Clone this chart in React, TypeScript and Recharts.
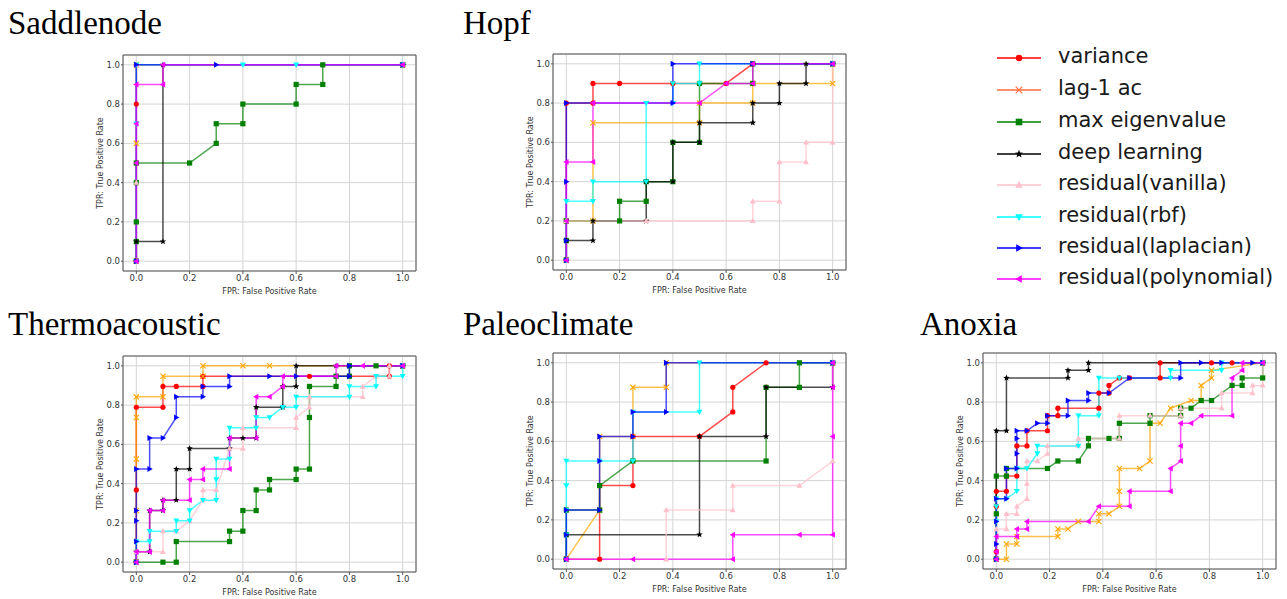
import { LineChart, Line, XAxis, YAxis, CartesianGrid, ReferenceArea } from "recharts"

// ---- series styling (matplotlib-like) ----
const seriesNames = [
  "variance",
  "lag-1 ac",
  "max eigenvalue",
  "deep learning",
  "residual(vanilla)",
  "residual(rbf)",
  "residual(laplacian)",
  "residual(polynomial)",
]
const seriesColors = ["#ff0000", "#ffa500", "#008000", "#000000", "#ffc0cb", "#00ffff", "#0000ff", "#ff00ff"]
const legendColors = ["#ff0000", "#ff6a3d", "#008000", "#000000", "#ffc0cb", "#00ffff", "#0000ff", "#ff00ff"]
const seriesMarkers = ["o", "x", "s", "*", "^", "v", ">", "<"]

const ticks = [0, 0.2, 0.4, 0.6, 0.8, 1.0]

// ---- Saddlenode (FPR, TPR) ----
const sadVariance = [[0, 0], [0, 0.8], [0, 1], [1, 1]]
const sadLag1 = [[0, 0], [0, 0.6], [0, 1], [1, 1]]
const sadMaxEig = [[0, 0], [0, 0.1], [0, 0.2], [0, 0.4], [0, 0.5], [0.2, 0.5], [0.3, 0.6], [0.3, 0.7], [0.4, 0.7], [0.4, 0.8], [0.6, 0.8], [0.6, 0.9], [0.7, 0.9], [0.7, 1], [1, 1]]
const sadDeep = [[0, 0], [0, 0.1], [0.1, 0.1], [0.1, 1], [1, 1]]
const sadVanilla = [[0, 0], [0, 0.4], [0, 1], [1, 1]]
const sadRbf = [[0, 0], [0, 0.7], [0, 1], [0.4, 1], [0.6, 1], [1, 1]]
const sadLaplacian = [[0, 0], [0, 1], [0.3, 1], [1, 1]]
const sadPolynomial = [[0, 0], [0, 0.5], [0, 0.7], [0, 0.9], [0.1, 0.9], [0.1, 1], [1, 1]]

// ---- Hopf ----
const hopfVariance = [[0, 0], [0, 0.8], [0.1, 0.8], [0.1, 0.9], [0.2, 0.9], [0.4, 0.9], [0.6, 0.9], [0.7, 1], [1, 1]]
const hopfLag1 = [[0, 0], [0, 0.2], [0.1, 0.2], [0.1, 0.7], [0.5, 0.7], [0.5, 0.8], [0.7, 0.8], [0.7, 0.9], [1, 0.9], [1, 1]]
const hopfMaxEig = [[0, 0], [0, 0.1], [0, 0.2], [0.2, 0.2], [0.2, 0.3], [0.3, 0.3], [0.3, 0.4], [0.4, 0.4], [0.4, 0.6], [0.5, 0.6], [0.5, 0.9], [0.7, 0.9], [0.7, 1], [1, 1]]
const hopfDeep = [[0, 0], [0, 0.1], [0.1, 0.1], [0.1, 0.2], [0.3, 0.2], [0.3, 0.4], [0.4, 0.4], [0.4, 0.6], [0.5, 0.6], [0.5, 0.7], [0.7, 0.7], [0.7, 0.8], [0.8, 0.8], [0.8, 0.9], [0.9, 0.9], [0.9, 1], [1, 1]]
const hopfVanilla = [[0, 0], [0, 0.2], [0.3, 0.2], [0.7, 0.2], [0.7, 0.3], [0.8, 0.3], [0.8, 0.5], [0.9, 0.5], [0.9, 0.6], [1, 0.6], [1, 1]]
const hopfRbf = [[0, 0], [0, 0.3], [0.1, 0.3], [0.1, 0.4], [0.3, 0.4], [0.3, 0.8], [0.4, 0.8], [0.4, 0.9], [0.5, 0.9], [0.5, 1], [1, 1]]
const hopfLaplacian = [[0, 0], [0, 0.1], [0, 0.4], [0, 0.8], [0.4, 0.8], [0.4, 1], [0.7, 1], [1, 1]]
const hopfPolynomial = [[0, 0], [0, 0.2], [0, 0.5], [0.1, 0.5], [0.1, 0.8], [0.5, 0.8], [0.6, 0.9], [0.7, 0.9], [0.7, 1], [1, 1]]

// ---- Thermoacoustic ----
const thermoVariance = [[0, 0], [0, 0.368], [0, 0.789], [0.1, 0.789], [0.1, 0.895], [0.15, 0.895], [0.25, 0.895], [0.25, 0.947], [0.65, 0.947], [0.95, 0.947], [0.95, 1], [1, 1]]
const thermoLag1 = [[0, 0], [0, 0.263], [0, 0.526], [0, 0.737], [0, 0.842], [0.1, 0.842], [0.1, 0.947], [0.25, 0.947], [0.25, 1], [0.4, 1], [0.5, 1], [1, 1]]
const thermoMaxEig = [[0, 0], [0.1, 0], [0.15, 0], [0.15, 0.105], [0.35, 0.105], [0.35, 0.158], [0.4, 0.158], [0.4, 0.263], [0.45, 0.263], [0.45, 0.368], [0.5, 0.368], [0.5, 0.421], [0.6, 0.421], [0.6, 0.474], [0.65, 0.474], [0.65, 0.737], [0.65, 0.895], [0.75, 0.895], [0.75, 0.947], [0.8, 0.947], [0.8, 1], [0.9, 1], [1, 1]]
const thermoDeep = [[0, 0], [0, 0.053], [0.05, 0.053], [0.05, 0.263], [0.1, 0.263], [0.1, 0.316], [0.15, 0.316], [0.15, 0.474], [0.2, 0.474], [0.2, 0.579], [0.35, 0.579], [0.35, 0.632], [0.4, 0.632], [0.45, 0.632], [0.45, 0.789], [0.55, 0.789], [0.55, 0.895], [0.6, 0.895], [0.6, 1], [0.75, 1], [1, 1]]
const thermoVanilla = [[0, 0], [0, 0.053], [0.1, 0.053], [0.1, 0.158], [0.15, 0.158], [0.2, 0.211], [0.25, 0.316], [0.25, 0.368], [0.3, 0.368], [0.35, 0.579], [0.4, 0.579], [0.4, 0.684], [0.6, 0.684], [0.6, 0.737], [0.65, 0.789], [0.65, 0.842], [0.85, 0.842], [0.85, 0.895], [0.9, 0.947], [0.95, 0.947], [0.95, 1], [1, 1]]
const thermoRbf = [[0, 0], [0, 0.105], [0.05, 0.105], [0.05, 0.158], [0.15, 0.158], [0.15, 0.211], [0.2, 0.211], [0.2, 0.263], [0.25, 0.316], [0.3, 0.316], [0.3, 0.421], [0.3, 0.526], [0.35, 0.526], [0.35, 0.684], [0.45, 0.684], [0.45, 0.737], [0.5, 0.737], [0.55, 0.789], [0.6, 0.789], [0.6, 0.842], [0.8, 0.842], [0.8, 0.895], [0.9, 0.895], [0.9, 0.947], [1, 0.947], [1, 1]]
const thermoLaplacian = [[0, 0], [0, 0.105], [0, 0.211], [0, 0.263], [0, 0.474], [0.05, 0.474], [0.05, 0.632], [0.1, 0.632], [0.15, 0.737], [0.15, 0.842], [0.25, 0.842], [0.25, 0.895], [0.35, 0.895], [0.35, 0.947], [0.5, 0.947], [0.6, 0.947], [0.8, 0.947], [0.8, 1], [1, 1]]
const thermoPolynomial = [[0, 0], [0, 0.053], [0.05, 0.053], [0.05, 0.263], [0.1, 0.263], [0.1, 0.316], [0.2, 0.316], [0.2, 0.421], [0.25, 0.421], [0.25, 0.474], [0.35, 0.474], [0.35, 0.632], [0.45, 0.632], [0.45, 0.842], [0.5, 0.842], [0.55, 0.895], [0.55, 0.947], [0.75, 0.947], [0.75, 1], [0.85, 1], [1, 1]]

// ---- Paleoclimate ----
const paleoVariance = [[0, 0], [0.125, 0], [0.125, 0.375], [0.25, 0.375], [0.25, 0.625], [0.5, 0.625], [0.625, 0.75], [0.625, 0.875], [0.75, 1], [1, 1]]
const paleoLag1 = [[0, 0], [0.125, 0.25], [0.125, 0.625], [0.25, 0.625], [0.25, 0.875], [0.375, 0.875], [0.375, 1], [1, 1]]
const paleoMaxEig = [[0, 0], [0, 0.125], [0, 0.25], [0.125, 0.25], [0.125, 0.375], [0.25, 0.5], [0.75, 0.5], [0.75, 0.875], [0.875, 0.875], [0.875, 1], [1, 1]]
const paleoDeep = [[0, 0], [0, 0.125], [0.5, 0.125], [0.5, 0.625], [0.75, 0.625], [0.75, 0.875], [1, 0.875], [1, 1]]
const paleoVanilla = [[0, 0], [0.375, 0], [0.375, 0.25], [0.625, 0.25], [0.625, 0.375], [0.875, 0.375], [1, 0.5], [1, 1]]
const paleoRbf = [[0, 0], [0, 0.125], [0, 0.25], [0, 0.375], [0, 0.5], [0.125, 0.5], [0.25, 0.5], [0.25, 0.75], [0.5, 0.75], [0.5, 1], [1, 1]]
const paleoLaplacian = [[0, 0], [0, 0.125], [0, 0.25], [0.125, 0.25], [0.125, 0.5], [0.125, 0.625], [0.25, 0.625], [0.25, 0.75], [0.375, 0.75], [0.375, 1], [1, 1]]
const paleoPolynomial = [[0, 0], [0.25, 0], [0.625, 0], [0.625, 0.125], [0.875, 0.125], [1, 0.125], [1, 0.625], [1, 0.875], [1, 1]]

// ---- Anoxia ----
const anoxVariance = [[0, 0], [0, 0.038], [0, 0.269], [0, 0.346], [0.038, 0.346], [0.038, 0.423], [0.077, 0.423], [0.077, 0.577], [0.115, 0.577], [0.115, 0.654], [0.192, 0.654], [0.192, 0.731], [0.231, 0.731], [0.231, 0.769], [0.385, 0.769], [0.385, 0.846], [0.423, 0.846], [0.423, 0.885], [0.462, 0.923], [0.5, 0.923], [0.615, 0.923], [0.615, 1], [0.808, 1], [0.885, 1], [1, 1]]
const anoxLag1 = [[0, 0], [0.038, 0], [0.038, 0.077], [0.077, 0.077], [0.077, 0.115], [0.231, 0.115], [0.231, 0.154], [0.269, 0.154], [0.308, 0.192], [0.385, 0.192], [0.385, 0.231], [0.423, 0.231], [0.462, 0.269], [0.462, 0.346], [0.462, 0.462], [0.538, 0.462], [0.577, 0.5], [0.577, 0.692], [0.615, 0.692], [0.654, 0.769], [0.731, 0.808], [0.769, 0.808], [0.769, 0.885], [0.808, 0.923], [0.808, 0.962], [1, 1]]
const anoxMaxEig = [[0, 0], [0, 0.231], [0, 0.423], [0.038, 0.423], [0.038, 0.462], [0.192, 0.462], [0.231, 0.5], [0.308, 0.5], [0.346, 0.577], [0.346, 0.615], [0.423, 0.615], [0.462, 0.615], [0.462, 0.692], [0.577, 0.692], [0.577, 0.731], [0.692, 0.731], [0.692, 0.769], [0.731, 0.769], [0.769, 0.808], [0.808, 0.808], [0.885, 0.885], [0.923, 0.885], [0.923, 0.923], [1, 0.923], [1, 1]]
const anoxDeep = [[0, 0], [0, 0.654], [0.038, 0.654], [0.038, 0.923], [0.269, 0.923], [0.269, 0.962], [0.346, 0.962], [0.346, 1], [1, 1]]
const anoxVanilla = [[0, 0], [0, 0.154], [0.038, 0.154], [0.038, 0.231], [0.077, 0.231], [0.077, 0.269], [0.115, 0.308], [0.115, 0.385], [0.115, 0.5], [0.154, 0.5], [0.192, 0.538], [0.192, 0.577], [0.308, 0.577], [0.308, 0.615], [0.462, 0.615], [0.462, 0.731], [0.577, 0.731], [0.692, 0.731], [0.692, 0.769], [0.846, 0.769], [0.846, 0.846], [0.962, 0.846], [0.962, 0.885], [1, 0.885], [1, 1]]
const anoxRbf = [[0, 0], [0, 0.192], [0, 0.269], [0, 0.308], [0.038, 0.308], [0.077, 0.346], [0.077, 0.462], [0.115, 0.462], [0.154, 0.538], [0.154, 0.577], [0.308, 0.577], [0.308, 0.731], [0.385, 0.731], [0.385, 0.923], [0.462, 0.923], [0.654, 0.923], [0.654, 0.962], [0.846, 0.962], [0.846, 1], [1, 1]]
const anoxLaplacian = [[0, 0], [0, 0.077], [0, 0.192], [0, 0.308], [0.038, 0.308], [0.038, 0.462], [0.077, 0.462], [0.077, 0.538], [0.077, 0.615], [0.077, 0.654], [0.115, 0.654], [0.154, 0.692], [0.192, 0.692], [0.192, 0.731], [0.269, 0.731], [0.269, 0.808], [0.346, 0.808], [0.346, 0.846], [0.423, 0.846], [0.5, 0.923], [0.692, 0.923], [0.692, 1], [0.769, 1], [0.846, 1], [0.962, 1], [1, 1]]
const anoxPolynomial = [[0, 0], [0, 0.038], [0, 0.115], [0.077, 0.115], [0.077, 0.154], [0.115, 0.154], [0.115, 0.192], [0.346, 0.192], [0.385, 0.269], [0.5, 0.269], [0.5, 0.346], [0.654, 0.346], [0.654, 0.462], [0.692, 0.5], [0.692, 0.577], [0.692, 0.692], [0.731, 0.692], [0.769, 0.731], [0.885, 0.731], [0.885, 0.923], [0.923, 0.962], [0.923, 1], [1, 1]]

const panels = [
  { title: "Saddlenode", titleX: 8, titleY: 7.4, fx: 123, fy: 55, series: [sadVariance, sadLag1, sadMaxEig, sadDeep, sadVanilla, sadRbf, sadLaplacian, sadPolynomial] },
  { title: "Hopf", titleX: 463, titleY: 7.4, fx: 553, fy: 54, series: [hopfVariance, hopfLag1, hopfMaxEig, hopfDeep, hopfVanilla, hopfRbf, hopfLaplacian, hopfPolynomial] },
  { title: "Thermoacoustic", titleX: 8, titleY: 308.4, fx: 123, fy: 356, series: [thermoVariance, thermoLag1, thermoMaxEig, thermoDeep, thermoVanilla, thermoRbf, thermoLaplacian, thermoPolynomial] },
  { title: "Paleoclimate", titleX: 463, titleY: 308.4, fx: 553, fy: 353, series: [paleoVariance, paleoLag1, paleoMaxEig, paleoDeep, paleoVanilla, paleoRbf, paleoLaplacian, paleoPolynomial] },
  { title: "Anoxia", titleX: 920, titleY: 308.4, fx: 983, fy: 353, series: [anoxVariance, anoxLag1, anoxMaxEig, anoxDeep, anoxVanilla, anoxRbf, anoxLaplacian, anoxPolynomial] },
]

const PLOT_W = 293
const PLOT_H = 216
const Y_AXIS_W = 30
const X_AXIS_H = 24
const M_TOP = 5
const M_RIGHT = 5

function Marker({ cx, cy, shape, color, s = 2.6 }: any) {
  if (cx == null || cy == null) return null
  switch (shape) {
    case "o":
      return <circle cx={cx} cy={cy} r={s} fill={color} />
    case "x":
      return (
        <path
          d={`M${cx - s},${cy - s}L${cx + s},${cy + s}M${cx - s},${cy + s}L${cx + s},${cy - s}`}
          stroke={color}
          strokeWidth={1.1}
        />
      )
    case "s":
      return <rect x={cx - s} y={cy - s} width={2 * s} height={2 * s} fill={color} />
    case "*": {
      const pts: string[] = []
      for (let i = 0; i < 10; i++) {
        const r = i % 2 === 0 ? s * 1.3 : s * 0.55
        const a = -Math.PI / 2 + (i * Math.PI) / 5
        pts.push(`${cx + r * Math.cos(a)},${cy + r * Math.sin(a)}`)
      }
      return <polygon points={pts.join(" ")} fill={color} />
    }
    case "^":
      return <polygon points={`${cx},${cy - s * 1.2} ${cx - s * 1.15},${cy + s * 0.85} ${cx + s * 1.15},${cy + s * 0.85}`} fill={color} />
    case "v":
      return <polygon points={`${cx},${cy + s * 1.2} ${cx - s * 1.15},${cy - s * 0.85} ${cx + s * 1.15},${cy - s * 0.85}`} fill={color} />
    case ">":
      return <polygon points={`${cx + s * 1.2},${cy} ${cx - s * 0.85},${cy - s * 1.15} ${cx - s * 0.85},${cy + s * 1.15}`} fill={color} />
    case "<":
      return <polygon points={`${cx - s * 1.2},${cy} ${cx + s * 0.85},${cy - s * 1.15} ${cx + s * 0.85},${cy + s * 1.15}`} fill={color} />
  }
  return null
}

const toXY = (pairs: number[][]) => pairs.map(([x, y]) => ({ x, y }))

function RocPanel({ panel }: any) {
  return (
    <>
      <div
        style={{
          position: "absolute",
          left: panel.titleX,
          top: panel.titleY,
          fontFamily: "'Liberation Serif', 'Times New Roman', serif",
          fontSize: 33,
          lineHeight: "33px",
          color: "#000",
          whiteSpace: "nowrap",
        }}
      >
        {panel.title}
      </div>
      <div style={{ position: "absolute", left: panel.fx - Y_AXIS_W, top: panel.fy - M_TOP }}>
        <LineChart
          width={Y_AXIS_W + PLOT_W + M_RIGHT}
          height={M_TOP + PLOT_H + X_AXIS_H}
          margin={{ top: M_TOP, right: M_RIGHT, left: 0, bottom: 0 }}
          style={{ fontFamily: "'DejaVu Sans', sans-serif" }}
        >
          <CartesianGrid stroke="#d4d4d4" strokeWidth={1} />
          <XAxis
            type="number"
            dataKey="x"
            domain={[-0.05, 1.05]}
            ticks={ticks}
            allowDataOverflow
            tickFormatter={(v: number) => v.toFixed(1)}
            tick={{ fontSize: 8.5, fill: "#333" }}
            tickSize={3}
            tickMargin={1}
            tickLine={{ stroke: "#555" }}
            axisLine={false}
            height={X_AXIS_H}
            label={{ value: "FPR: False Positive Rate", position: "insideBottom", offset: 1, style: { fontSize: 8, fill: "#333" } }}
          />
          <YAxis
            type="number"
            dataKey="y"
            domain={[-0.05, 1.05]}
            ticks={ticks}
            allowDataOverflow
            tickFormatter={(v: number) => v.toFixed(1)}
            tick={{ fontSize: 8.5, fill: "#333" }}
            tickSize={2}
            tickMargin={1}
            tickLine={{ stroke: "#555" }}
            axisLine={false}
            width={Y_AXIS_W}
            label={{ value: "TPR: True Positive Rate", angle: -90, position: "insideLeft", offset: 7, style: { fontSize: 8, fill: "#333", textAnchor: "middle" } }}
          />
          <ReferenceArea x1={-0.05} x2={1.05} y1={-0.05} y2={1.05} fill="none" fillOpacity={0} stroke="#555" strokeWidth={1} ifOverflow="visible" />
          {panel.series.map((pairs: number[][], i: number) => (
            <Line
              key={seriesNames[i]}
              data={toXY(pairs)}
              dataKey="y"
              type="linear"
              stroke={seriesColors[i]}
              strokeOpacity={0.7}
              strokeWidth={1.5}
              isAnimationActive={false}
              activeDot={false}
              dot={(p: any) => (
                <Marker key={`${i}-${p.index}`} cx={p.cx} cy={p.cy} shape={seriesMarkers[i]} color={seriesColors[i]} />
              )}
            />
          ))}
        </LineChart>
      </div>
    </>
  )
}

const legendRowsY = [58, 90, 122, 154, 185, 217, 248, 279]

function LegendBlock() {
  return (
    <>
      {seriesNames.map((name, i) => (
        <div key={name}>
          <svg
            width={48}
            height={14}
            style={{ position: "absolute", left: 995, top: legendRowsY[i] - 7, overflow: "visible" }}
          >
            <line x1={2} y1={7} x2={46} y2={7} stroke={legendColors[i]} strokeWidth={1.6} />
            <Marker cx={24} cy={7} shape={seriesMarkers[i]} color={legendColors[i]} s={3.3} />
          </svg>
          <div
            style={{
              position: "absolute",
              left: 1058,
              top: legendRowsY[i] - 13.6,
              fontFamily: "'DejaVu Sans', sans-serif",
              fontSize: 21,
              lineHeight: "24px",
              color: "#1a1a1a",
              whiteSpace: "nowrap",
            }}
          >
            {name}
          </div>
        </div>
      ))}
    </>
  )
}

export default function App() {
  return (
    <div style={{ position: "absolute", left: 0, top: 0, width: 1287, height: 599, background: "#fff", overflow: "hidden" }}>
      {panels.map((p) => (
        <RocPanel key={p.title} panel={p} />
      ))}
      <LegendBlock />
    </div>
  )
}
